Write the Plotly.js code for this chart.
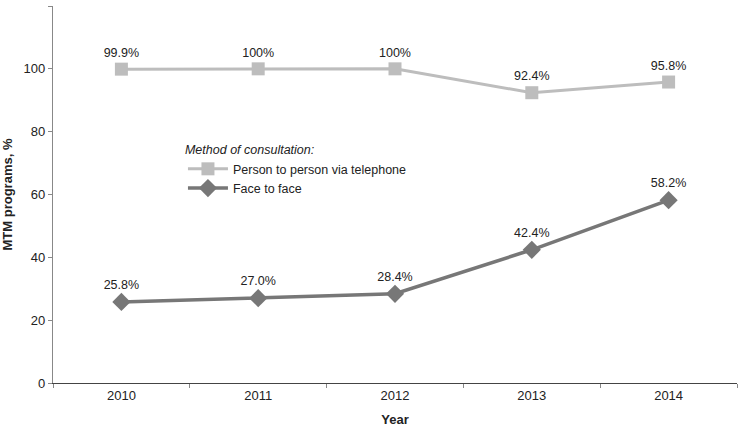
<!DOCTYPE html>
<html><head><meta charset="utf-8">
<script src="https://cdn.plot.ly/plotly-3.0.1.min.js"></script>
<style>body{margin:0;padding:0;background:#fff}#chart{width:739px;height:427px}</style>
</head><body><div id="chart"></div>
<script>
const years = ['2010','2011','2012','2013','2014'];
const telephone = [99.9, 100, 100, 92.4, 95.8];
const telephoneLabels = ['99.9%','100%','100%','92.4%','95.8%'];
const faceToFace = [25.8, 27.0, 28.4, 42.4, 58.2];
const faceLabels = ['25.8%','27.0%','28.4%','42.4%','58.2%'];
const FONT = '"Liberation Sans Narrow", "Liberation Sans", Arial, sans-serif';

const traces = [
  {x: years, y: telephone, name: 'Person to person via telephone', type: 'scatter', mode: 'lines+markers+text',
   text: telephoneLabels, textposition: 'top center', textfont: {size: 12.5, color: '#222', family: FONT},
   line: {color: '#bdbdbd', width: 3}, marker: {symbol: 'square', size: 13, color: '#bdbdbd'}, cliponaxis: false},
  {x: years, y: faceToFace, name: 'Face to face', type: 'scatter', mode: 'lines+markers+text',
   text: faceLabels, textposition: 'top center', textfont: {size: 12.5, color: '#222', family: FONT},
   line: {color: '#777777', width: 3.5}, marker: {symbol: 'diamond', size: 14, color: '#777777'}, cliponaxis: false}
];

const layout = {
  width: 739, height: 427,
  margin: {l: 53, r: 2, t: 6, b: 44},
  paper_bgcolor: '#fff', plot_bgcolor: '#fff',
  font: {family: FONT, size: 12.5, color: '#222'},
  showlegend: true,
  legend: {x: 0.19, y: 0.65, xanchor: 'left', yanchor: 'top', bgcolor: 'rgba(0,0,0,0)',
           title: {text: '<i>Method of consultation:</i>', font: {size: 12.5, family: FONT}, side: 'top'},
           font: {size: 12.5, family: FONT}, tracegroupgap: 0, itemwidth: 40},
  xaxis: {type: 'category', range: [-0.5, 4.5], showgrid: false, zeroline: false,
          showline: true, linecolor: '#444', linewidth: 1.2,
          ticks: 'outside', tickson: 'boundaries', ticklen: 4, tickcolor: '#888',
          tickfont: {size: 13, family: FONT},
          title: {text: '<b>Year</b>', font: {size: 13, family: FONT}, standoff: 14}},
  yaxis: {range: [0, 120], dtick: 20, showgrid: false, zeroline: false,
          showline: true, linecolor: '#888', linewidth: 1.2,
          ticks: 'outside', ticklen: 4, tickcolor: '#888',
          tickfont: {size: 13, family: FONT},
          title: {text: '<b>MTM programs, %</b>', font: {size: 13, family: FONT}, standoff: 12}}
};
Plotly.newPlot('chart', traces, layout, {displayModeBar: false, staticPlot: true});
</script></body></html>
